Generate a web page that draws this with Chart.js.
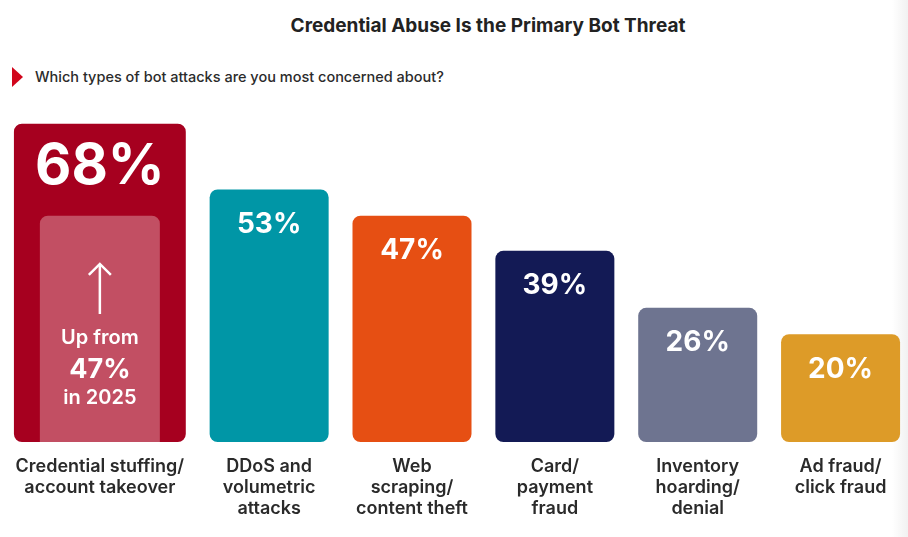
<!DOCTYPE html>
<html>
<head>
<meta charset="utf-8">
<script src="https://cdn.jsdelivr.net/npm/chart.js@4.4.1/dist/chart.umd.min.js"></script>
<style>
  html, body { margin: 0; padding: 0; }
  body {
    width: 908px; height: 537px; position: relative; overflow: hidden;
    font-family: Inter, "Noto Sans", sans-serif;
    background: linear-gradient(to right, #fff 0, #fff 892px, #f1f1f1 908px);
  }
  #title {
    position: absolute; left: 0; top: 16px; width: 976px; text-align: center;
    font-size: 19px; line-height: 20px; font-weight: 700; color: #222;
  }
  #question {
    position: absolute; left: 35px; top: 67px;
    font-size: 14.5px; line-height: 20px; font-weight: 500; color: #2b2b2b;
  }
  #marker {
    position: absolute; left: 12px; top: 67px; width: 0; height: 0;
    border-left: 11px solid #d1061c;
    border-top: 10.5px solid transparent; border-bottom: 10.5px solid transparent;
  }
  #chart { position: absolute; left: 0; top: 0; }
</style>
</head>
<body>
<div id="title">Credential Abuse Is the Primary Bot Threat</div>
<div id="marker"></div>
<div id="question">Which types of bot attacks are you most concerned about?</div>
<canvas id="chart" width="912" height="537"></canvas>

<script>
const categories = [
  ['Credential stuffing/', 'account takeover'],
  ['DDoS and', 'volumetric', 'attacks'],
  ['Web', 'scraping/', 'content theft'],
  ['Card/', 'payment', 'fraud'],
  ['Inventory', 'hoarding/', 'denial'],
  ['Ad fraud/', 'click fraud']
];
const shares2026 = [68, 53, 47, 39, 26, 20];
const prior2025 = [47, null, null, null, null, null];

const barColors = ['#a6001f', '#0096a6', '#e64f13', '#131a55', '#6e7490', '#dd9b28'];
// the first slot is drawn wider than the others
const slotWeights = [1.37, 1, 1, 1, 1, 1];
const totalWeight = slotWeights.reduce((a, b) => a + b, 0);
const yMin = -4.6;

class WeightedCategoryScale extends Chart.CategoryScale {
  getPixelForValue(value) {
    const idx = typeof value === 'number' ? value : this.parse(value);
    if (idx === null || isNaN(idx) || idx < 0 || idx >= slotWeights.length) return NaN;
    const unit = this.width / totalWeight;
    let cum = 0;
    for (let i = 0; i < idx; i++) cum += slotWeights[i];
    return this.left + unit * (cum + slotWeights[idx] / 2);
  }
}
WeightedCategoryScale.id = 'weightedCategory';
WeightedCategoryScale.defaults = Chart.CategoryScale.defaults;
Chart.register(WeightedCategoryScale);

const widenBars = {
  id: 'widenBars',
  afterDatasetsUpdate(chart) {
    const unit = chart.scales.x.width / totalWeight;
    chart.getDatasetMeta(0).data.forEach((el, i) => {
      el.width += (slotWeights[i] - 1) * unit;
    });
  }
};

const barText = {
  id: 'barText',
  afterDatasetsDraw(chart) {
    const ctx = chart.ctx;
    ctx.save();
    ctx.fillStyle = '#fff';
    ctx.strokeStyle = '#fff';
    ctx.textAlign = 'center';
    ctx.textBaseline = 'middle';
    chart.getDatasetMeta(0).data.forEach((el, i) => {
      const big = i === 0;
      ctx.font = '700 ' + (big ? 56 : 28) + 'px Inter, sans-serif';
      ctx.fillText(shares2026[i] + '%', el.x, el.y + (big ? 43 : 35));
    });

    const prev = chart.getDatasetMeta(1).data[0];
    const cx = prev.x, b = prev.base;
    ctx.lineWidth = 2.5;
    ctx.beginPath();
    ctx.moveTo(cx, b - 178);
    ctx.lineTo(cx, b - 128);
    ctx.stroke();
    ctx.beginPath();
    ctx.moveTo(cx - 11, b - 167);
    ctx.lineTo(cx, b - 178);
    ctx.lineTo(cx + 11, b - 167);
    ctx.stroke();
    ctx.font = '600 20px Inter, sans-serif';
    ctx.fillText('Up from', cx, b - 104);
    ctx.font = '700 27px Inter, sans-serif';
    ctx.fillText(prior2025[0] + '%', cx, b - 72);
    ctx.font = '600 20px Inter, sans-serif';
    ctx.fillText('in 2025', cx, b - 44);
    ctx.restore();
  }
};

new Chart(document.getElementById('chart'), {
  type: 'bar',
  data: {
    labels: categories,
    datasets: [
      {
        label: '2026',
        data: shares2026,
        backgroundColor: barColors,
        base: yMin,
        grouped: false,
        order: 2,
        categoryPercentage: 1,
        barPercentage: 0.833,
        borderRadius: 8,
        borderSkipped: false
      },
      {
        label: '2025',
        data: prior2025,
        backgroundColor: '#c24f63',
        base: yMin,
        grouped: false,
        order: 1,
        categoryPercentage: 1,
        barPercentage: 0.84,
        borderRadius: { topLeft: 8, topRight: 8 },
        borderSkipped: 'start'
      }
    ]
  },
  options: {
    responsive: false,
    animation: false,
    layout: { padding: { top: 93, left: 2, right: 0, bottom: 4 } },
    plugins: {
      legend: { display: false },
      tooltip: { enabled: false }
    },
    scales: {
      x: {
        type: 'weightedCategory',
        grid: { display: false, drawTicks: false },
        border: { display: false },
        ticks: {
          padding: 14,
          color: '#2a2a2a',
          maxRotation: 0,
          autoSkip: false,
          font: { family: 'Inter, sans-serif', size: 18, weight: '600', lineHeight: 1.167 }
        }
      },
      y: {
        display: false,
        min: yMin,
        max: 75
      }
    }
  },
  plugins: [widenBars, barText]
});
</script>
</body>
</html>
